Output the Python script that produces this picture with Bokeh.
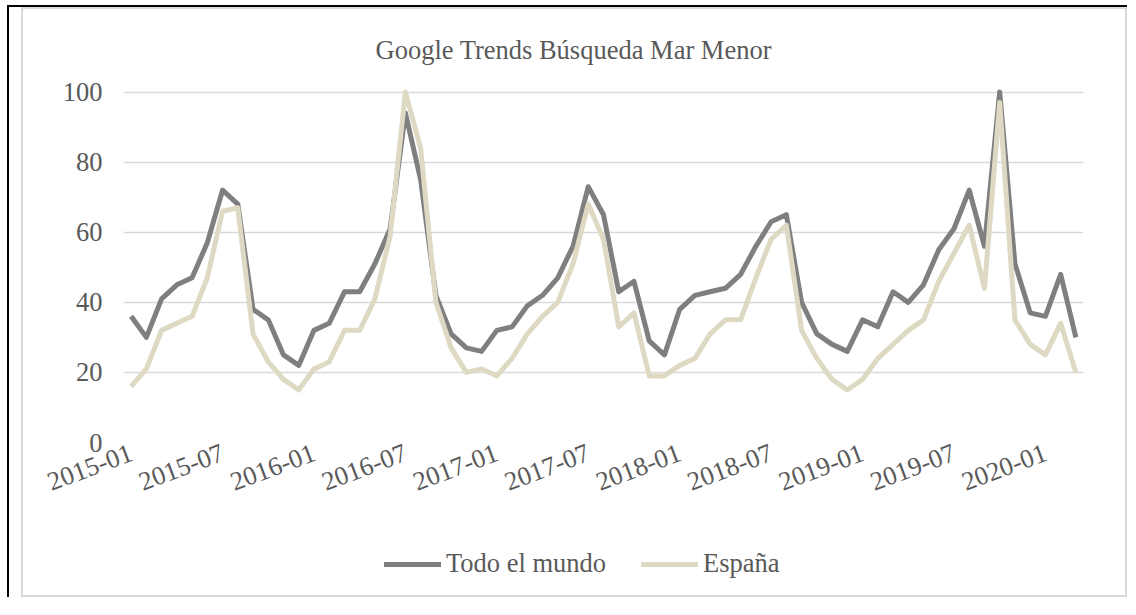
from bokeh.plotting import figure
from bokeh.models import Range1d, Legend, LegendItem, FixedTicker
from bokeh.layouts import column
from bokeh.embed import file_html
from bokeh.resources import INLINE

# ---- data ----
months = [f"{y}-{m:02d}" for y in range(2015, 2021) for m in range(1, 13)][:63]
tick_labels = ["2015-01", "2015-07", "2016-01", "2016-07", "2017-01", "2017-07",
               "2018-01", "2018-07", "2019-01", "2019-07", "2020-01"]
world = [36, 30, 41, 45, 47, 57, 72, 68, 38, 35, 25, 22,
         32, 34, 43, 43, 51, 61, 94, 75, 42, 31, 27, 26,
         32, 33, 39, 42, 47, 56, 73, 65, 43, 46, 29, 25,
         38, 42, 43, 44, 48, 56, 63, 65, 40, 31, 28, 26,
         35, 33, 43, 40, 45, 55, 61, 72, 56, 100, 51, 37,
         36, 48, 30]
spain = [16, 21, 32, 34, 36, 47, 66, 67, 31, 23, 18, 15,
         21, 23, 32, 32, 41, 59, 100, 84, 40, 27, 20, 21,
         19, 24, 31, 36, 40, 51, 68, 58, 33, 37, 19, 19,
         22, 24, 31, 35, 35, 47, 58, 62, 32, 24, 18, 15,
         18, 24, 28, 32, 35, 46, 54, 62, 44, 97, 35, 28,
         25, 34, 20]
y_ticks = [0, 20, 40, 60, 80, 100]

# category positions (one slot per month)
x = list(range(len(months)))
x_ticks = [months.index(t) for t in tick_labels]

FONT = "Liberation Serif"
TXT = "#595959"
FS = "26.5px"
GRAY_BORDER = "2px solid #d9d9d9"
WORLD_C = "#7f7f7f"
SPAIN_C = "#ddd9c3"

p = figure(x_range=Range1d(-0.5, len(months) - 0.5), y_range=Range1d(0, 101.3),
           width=1106, height=518, output_backend="svg", toolbar_location=None,
           min_border_left=100, min_border_right=46, min_border_top=78,
           min_border_bottom=85, margin=(0, 0, 0, 12))
p.styles = {"border-top": GRAY_BORDER, "border-left": GRAY_BORDER, "border-right": GRAY_BORDER}
p.outline_line_color = None
p.background_fill_color = "white"
p.border_fill_color = "white"

p.title.text = "Google Trends Búsqueda Mar Menor"
p.title.align = "left"
p.title.offset = 252
p.title.standoff = 46
p.title.text_font = FONT
p.title.text_font_size = FS
p.title.text_font_style = "normal"
p.title.text_color = TXT

p.yaxis.ticker = FixedTicker(ticks=y_ticks)
p.yaxis.axis_line_color = None
p.yaxis.major_tick_line_color = None
p.yaxis.minor_tick_line_color = None
p.yaxis.major_label_standoff = 15
p.yaxis.major_label_text_font = FONT
p.yaxis.major_label_text_font_size = FS
p.yaxis.major_label_text_color = TXT

p.ygrid.ticker = FixedTicker(ticks=y_ticks)
p.ygrid.grid_line_color = "#d9d9d9"
p.ygrid.grid_line_width = 1.5
p.xgrid.grid_line_color = None

p.xaxis.ticker = FixedTicker(ticks=x_ticks)
p.xaxis.major_label_overrides = {i: t for i, t in zip(x_ticks, tick_labels)}
p.xaxis.major_label_orientation = 0.36
p.xaxis.axis_line_color = None
p.xaxis.major_tick_line_color = None
p.xaxis.minor_tick_line_color = None
p.xaxis.major_label_standoff = 3
p.xaxis.major_label_text_font = FONT
p.xaxis.major_label_text_font_size = FS
p.xaxis.major_label_text_color = TXT

p.line(x, world, color=WORLD_C, line_width=5, line_join="round")
p.line(x, spain, color=SPAIN_C, line_width=5, line_join="round")

# legend strip: same series, drawn outside its (hidden) view so only the legend shows
pl = figure(width=1106, height=72, output_backend="svg", toolbar_location=None,
            x_range=Range1d(0, 1), y_range=Range1d(-2, -1),
            x_axis_type=None, y_axis_type=None,
            min_border_left=0, min_border_right=0, min_border_top=0, min_border_bottom=0,
            margin=(0, 0, 0, 12))
pl.styles = {"border-left": GRAY_BORDER, "border-right": GRAY_BORDER, "border-bottom": GRAY_BORDER}
pl.outline_line_color = None
pl.grid.visible = False
lw = pl.line(x, world, color=WORLD_C, line_width=5, line_cap="round")
ls = pl.line(x, spain, color=SPAIN_C, line_width=5, line_cap="round")
legend = Legend(items=[LegendItem(label="Todo el mundo", renderers=[lw]),
                       LegendItem(label="España", renderers=[ls])],
                orientation="horizontal", location=(261, 18),
                glyph_width=57, label_standoff=5, spacing=35, padding=0, margin=0,
                border_line_color=None, background_fill_alpha=0,
                label_text_font=FONT, label_text_font_size=FS, label_text_color=TXT)
pl.add_layout(legend)

layout = column(p, pl, margin=(5, 0, 0, 7), spacing=0,
                styles={"border-top": "2px solid black", "border-left": "2px solid black"})

open("out.html", "w").write(file_html(layout, INLINE))
